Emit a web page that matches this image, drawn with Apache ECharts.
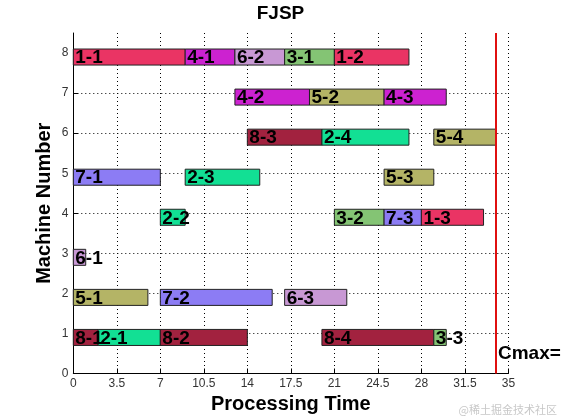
<!DOCTYPE html>
<html>
<head>
<meta charset="utf-8">
<script src="https://cdn.jsdelivr.net/npm/echarts@6/dist/echarts.min.js"></script>
<style>
  html, body { margin: 0; padding: 0; background: #fff; }
  #chart { width: 561px; height: 420px; }
</style>
</head>
<body>
<div id="chart"></div>
<script>
// ---- data ----
const opLabels = ['1-1','4-1','6-2','3-1','1-2',
                  '4-2','5-2','4-3',
                  '8-3','2-4','5-4',
                  '7-1','2-3','5-3',
                  '2-2','3-2','7-3','1-3',
                  '6-1',
                  '5-1','7-2','6-3',
                  '8-1','2-1','8-2','8-4','3-3'];
const opMachines = [8,8,8,8,8,
                    7,7,7,
                    6,6,6,
                    5,5,5,
                    4,4,4,4,
                    3,
                    2,2,2,
                    1,1,1,1,1];
const opStarts = [0,9,13,17,21,
                  13,19,25,
                  14,20,29,
                  0,9,25,
                  7,21,25,28,
                  0,
                  0,7,17,
                  0,2,7,20,29];
const opEnds =   [9,13,17,21,27,
                  19,25,30,
                  20,27,34,
                  7,15,29,
                  9,25,28,33,
                  1,
                  6,16,22,
                  2,7,14,29,30];
const cmax = 34;
const xTicks = [0, 3.5, 7, 10.5, 14, 17.5, 21, 24.5, 28, 31.5, 35];
const yTicks = [0, 1, 2, 3, 4, 5, 6, 7, 8];

// colours per job (index = job number)
const jobColors = [null, '#ea3464', '#12e094', '#84c474', '#cc22d0',
                   '#b4b466', '#c898d4', '#8c7cf4', '#a2223f'];

const barData = opLabels.map((lab, i) => [opStarts[i], opEnds[i], opMachines[i], lab]);

const chart = echarts.init(document.getElementById('chart'), null, { renderer: 'canvas' });

const option = {
  animation: false,
  backgroundColor: '#ffffff',
  title: {
    text: 'FJSP',
    left: 'center',
    top: -1,
    textStyle: { fontFamily: 'Liberation Sans, Arial', fontWeight: 'bold', fontSize: 19, color: '#000' }
  },
  grid: { left: 73.3, right: 52.6, top: 33, bottom: 46.5 },
  xAxis: {
    type: 'value',
    min: 0, max: 35, interval: 3.5,
    name: 'Processing Time',
    nameLocation: 'middle',
    nameGap: 21,
    nameMoveOverlap: false,
    nameTextStyle: { fontFamily: 'Liberation Sans, Arial', fontWeight: 'bold', fontSize: 20, color: '#000' },
    axisLine: { show: true, lineStyle: { color: '#000', width: 1 } },
    axisTick: { show: true, inside: true, length: 5, lineStyle: { color: '#000' } },
    axisLabel: {
      color: '#333', fontSize: 12, fontFamily: 'Liberation Sans, Arial', margin: 4,
      customValues: xTicks,
      formatter: v => String(v)
    },
    splitLine: { show: true, lineStyle: { color: '#000', width: 1, type: [1, 3] } }
  },
  yAxis: {
    type: 'value',
    min: 0, max: 8.5, interval: 1,
    name: 'Machine Number',
    nameLocation: 'middle',
    nameGap: 19,
    nameMoveOverlap: false,
    nameTextStyle: { fontFamily: 'Liberation Sans, Arial', fontWeight: 'bold', fontSize: 20, color: '#000' },
    axisLine: { show: true, lineStyle: { color: '#000', width: 1 } },
    axisTick: { show: true, inside: true, length: 5, lineStyle: { color: '#000' }, customValues: yTicks },
    axisLabel: {
      color: '#333', fontSize: 12, fontFamily: 'Liberation Sans, Arial', margin: 5,
      customValues: yTicks
    },
    splitLine: { show: true, showMaxLine: false, showMinLine: false, lineStyle: { color: '#000', width: 1, type: [1, 3] } }
  },
  series: [
    {
      type: 'custom',
      data: barData,
      clip: false,
      renderItem: function (params, api) {
        const s = api.value(0), e = api.value(1), m = api.value(2);
        const lab = opLabels[params.dataIndex];
        const job = parseInt(lab.split('-')[0], 10);
        const p0 = api.coord([s, m + 0.1]);
        const p1 = api.coord([e, m - 0.3]);
        return {
          type: 'group',
          children: [
            {
              type: 'rect',
              shape: { x: p0[0], y: p0[1], width: p1[0] - p0[0], height: p1[1] - p0[1] },
              style: { fill: jobColors[job], stroke: '#222', lineWidth: 1 }
            },
            {
              type: 'text',
              x: p0[0] + 2,
              y: (p0[1] + p1[1]) / 2 + 1,
              z2: 10,
              style: {
                text: lab,
                font: 'bold 19px "Liberation Sans", Arial',
                fill: '#000',
                align: 'left',
                verticalAlign: 'middle'
              }
            }
          ]
        };
      },
      markLine: {
        silent: true,
        symbol: 'none',
        label: { show: false },
        lineStyle: { color: '#e01010', width: 2, type: 'solid' },
        data: [{ xAxis: cmax }]
      }
    },
    {
      type: 'custom',
      data: [[cmax, 0.5]],
      clip: false,
      renderItem: function (params, api) {
        const p = api.coord([api.value(0), api.value(1)]);
        return {
          type: 'text',
          x: p[0] + 2,
          y: p[1],
          style: {
            text: 'Cmax=',
            font: 'bold 19px "Liberation Sans", Arial',
            fill: '#000',
            align: 'left',
            verticalAlign: 'middle'
          }
        };
      }
    }
  ],
  graphic: [
    {
      type: 'text',
      right: 4,
      bottom: 5,
      style: {
        text: '@稀土掘金技术社区',
        font: '11px "Noto Sans CJK SC"',
        fill: '#c8c8c8'
      }
    }
  ]
};

chart.setOption(option);
</script>
</body>
</html>
